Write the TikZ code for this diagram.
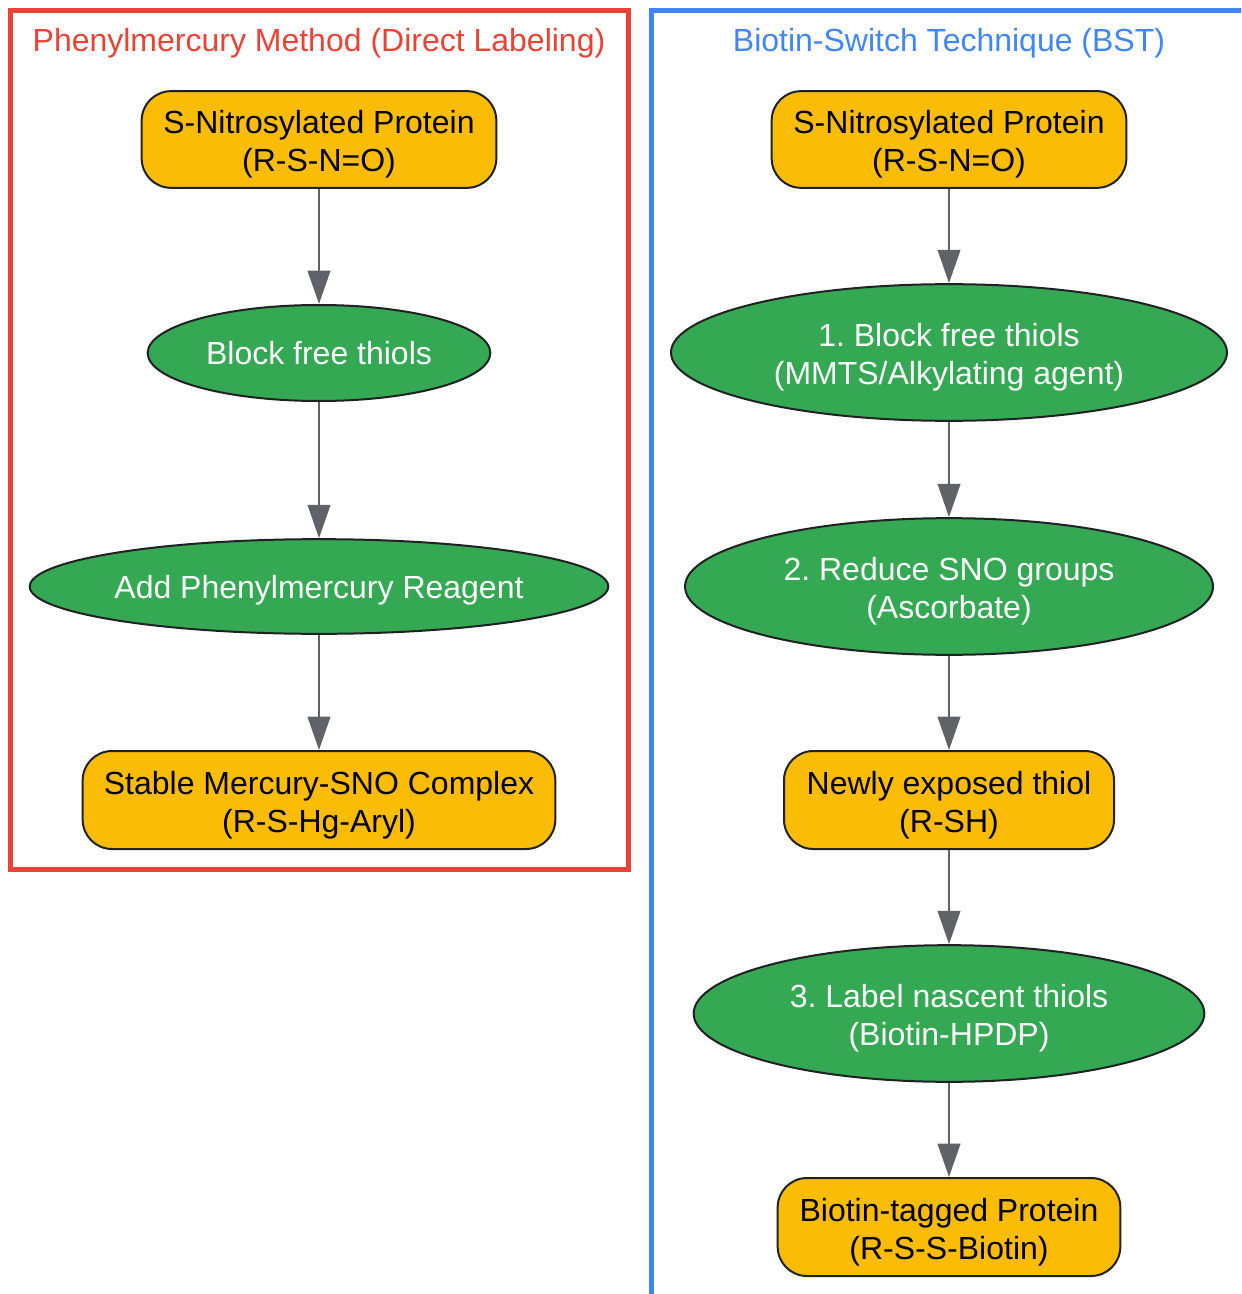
\documentclass[tikz,border=0pt]{standalone}
\usepackage{fontspec}
\setmainfont{Liberation Sans}
\frenchspacing
\usetikzlibrary{shapes.geometric,arrows.meta}
\definecolor{gred}{HTML}{EA4335}
\definecolor{gblue}{HTML}{4285F4}
\definecolor{gyellow}{HTML}{FBBC05}
\definecolor{ggreen}{HTML}{34A853}
\definecolor{gborder}{HTML}{202124}
\definecolor{garrow}{HTML}{5F6368}
\newcommand\firstup{\rule{0pt}{25pt}}
\tikzset{
  every node/.style={font=\fontsize{24}{28.5}\selectfont},
  prodbox/.style={draw=gborder, line width=1.5pt, fill=gyellow, rounded corners=22pt, align=center, text=black, inner sep=0pt},
  stepell/.style={ellipse, draw=gborder, line width=1.5pt, fill=ggreen, align=center, text=white, inner sep=0pt},
  flow/.style={draw=garrow, line width=1.5pt, -{Triangle[length=25pt,width=17pt]}},
  cluster/.style={line width=3.75pt},
  ctitle/.style={inner sep=0pt}
}
\begin{document}
\begin{tikzpicture}[x=0.75pt,y=-0.75pt]
\useasboundingbox (0,0) rectangle (1241,1294);
\clip (0,0) rectangle (1241,1294);
% clusters
\draw[cluster, draw=gred] (10,11) rectangle (628,869);
\draw[cluster, draw=gblue] (651,11) rectangle (1300,1350);
\node[ctitle, text=gred] (tl) at (319,43) {Phenylmercury Method (Direct Labeling)};
\node[ctitle, text=gblue] (tr) at (949,43) {Biotin-Switch Technique (BST)};
% left column
\node[prodbox, minimum width=266pt, minimum height=72.5pt] (l1) at (319,139.5) {\firstup S-Nitrosylated Protein\\(R-S-N=O)};
\node[stepell, minimum width=257pt, minimum height=72pt, text depth=0pt] (l2) at (319,353) {Block free thiols};
\node[stepell, minimum width=432.5pt, minimum height=71pt, text depth=0pt] (l3) at (319,586.5) {Add Phenylmercury Reagent};
\node[prodbox, minimum width=354.5pt, minimum height=73.5pt] (l4) at (319,800) {\firstup Stable Mercury-SNO Complex\\(R-S-Hg-Aryl)};
% right column
\node[prodbox, minimum width=266pt, minimum height=72.5pt] (r1) at (949,139.5) {\firstup S-Nitrosylated Protein\\(R-S-N=O)};
\node[stepell, minimum width=417pt, minimum height=102.5pt] (r2) at (949,352.5) {\firstup 1. Block free thiols\\(MMTS/Alkylating agent)};
\node[stepell, minimum width=396pt, minimum height=102.5pt] (r3) at (949,586.5) {\firstup 2. Reduce SNO groups\\(Ascorbate)};
\node[prodbox, minimum width=247.5pt, minimum height=73.5pt] (r4) at (949,800) {\firstup Newly exposed thiol\\(R-SH)};
\node[stepell, minimum width=383pt, minimum height=102.5pt] (r5) at (949,1013.5) {\firstup 3. Label nascent thiols\\(Biotin-HPDP)};
\node[prodbox, minimum width=257pt, minimum height=73.5pt] (r6) at (949,1227) {\firstup Biotin-tagged Protein\\(R-S-S-Biotin)};
% connectors
\draw[flow] (l1) -- (l2);
\draw[flow] (l2) -- (l3);
\draw[flow] (l3) -- (l4);
\draw[flow] (r1) -- (r2);
\draw[flow] (r2) -- (r3);
\draw[flow] (r3) -- (r4);
\draw[flow] (r4) -- (r5);
\draw[flow] (r5) -- (r6);
\end{tikzpicture}
\end{document}
